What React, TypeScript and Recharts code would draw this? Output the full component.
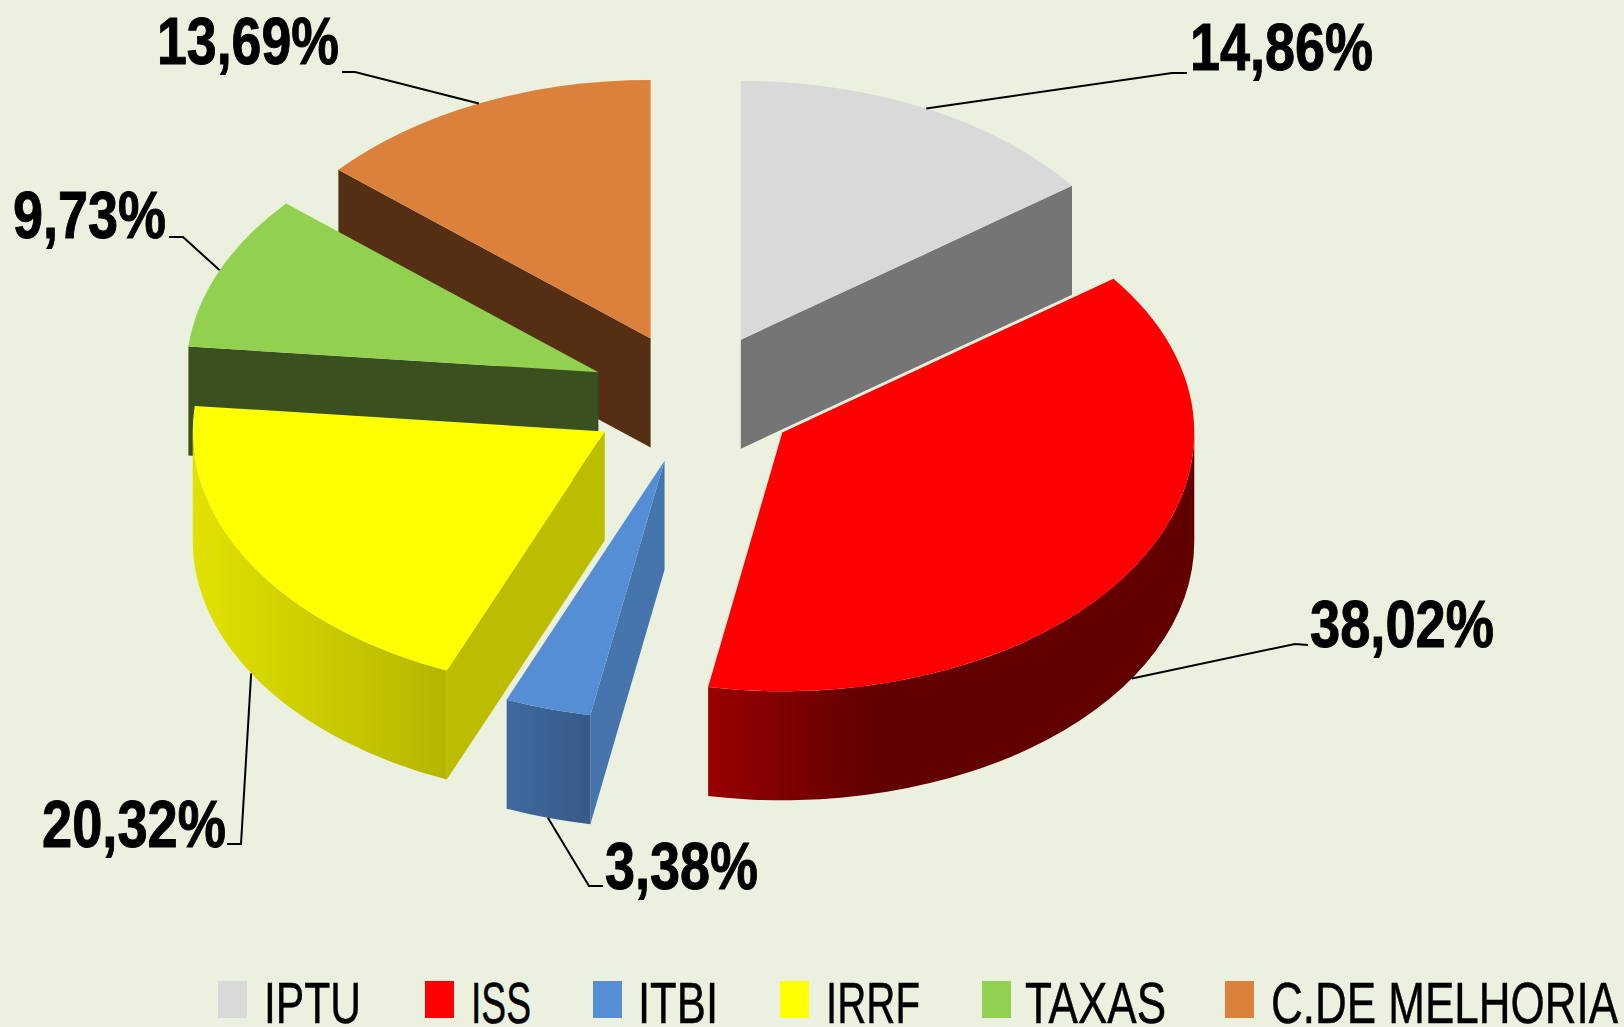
import { PieChart, Pie, Cell, Legend } from 'recharts'

const WIDTH = 1624
const HEIGHT = 1027

// values
const categories = ['IPTU', 'ISS', 'ITBI', 'IRRF', 'TAXAS', 'C.DE MELHORIA']
const shares = [14.86, 38.02, 3.38, 20.32, 9.73, 13.69]

const topColors = ['#D9D9D9', '#FF0000', '#558ED5', '#FFFF00', '#92D050', '#DB813C']
const sideColors = ['#757575', '#660000', '#4674AD', '#BDBD00', '#3A501F', '#552F14']
const wallStops = [
  ['#757575', '#757575'],
  ['#990000', '#620000'],
  ['#3F6A9F', '#375A87'],
  ['#E2E200', '#B5B500'],
  ['#3A501F', '#3A501F'],
  ['#552F14', '#552F14'],
]

// 3D look: the chart's circle is flattened and each slice pulled away from the centre
const CX = 694
const CY = 398
const RADIUS = 412
const SQUASH = 0.628
const DEPTH = 109
const EXPLODE = 0.2525

// label placement, relative to where the leader leaves its slice
const labelLayout: Record<string, any> = {
  IPTU: { elbow: [1172, 73], end: [1187, 73], x: 1190, y: 70, w: 183 },
  ISS: { elbow: [1295, 644], end: [1308, 645], x: 1310, y: 647, w: 184 },
  ITBI: { elbow: [589, 886], end: [603, 886], x: 605, y: 889, w: 153 },
  IRRF: { elbow: [241, 844], end: [227, 844], x: 42, y: 847, w: 184 },
  TAXAS: { elbow: [183, 237], end: [169, 237], x: 13, y: 238, w: 153 },
  'C.DE MELHORIA': { elbow: [355, 72], end: [342, 72], x: 157, y: 64, w: 182 },
}

const legendLayout: Record<string, any> = {
  IPTU: { box: 218, x: 264, w: 97 },
  ISS: { box: 425, x: 471, w: 60 },
  ITBI: { box: 593, x: 638, w: 80 },
  IRRF: { box: 780, x: 826, w: 94 },
  TAXAS: { box: 982, x: 1025, w: 141 },
  'C.DE MELHORIA': { box: 1225, x: 1271, w: 347 },
}

const rows = categories.map((name, i) => ({ name, value: shares[i] })).reverse()

const rad = (deg: number) => (deg * Math.PI) / 180

function project(cx: number, cy: number, r: number, deg: number) {
  return [cx + r * Math.cos(rad(deg)), cy - r * SQUASH * Math.sin(rad(deg))]
}

function apexOf(cx: number, cy: number, r: number, mid: number) {
  return project(cx, cy, r * EXPLODE, mid)
}

function Slice3D(props: any) {
  const { cx, cy, outerRadius: r, startAngle, endAngle, name } = props
  const i = categories.indexOf(name ?? props.payload?.name)
  const a1 = Math.min(startAngle, endAngle)
  const a2 = Math.max(startAngle, endAngle)
  const mid = (a1 + a2) / 2
  const [ax, ay] = apexOf(cx, cy, r, mid)
  const ry = r * SQUASH
  const at = (deg: number) => project(ax, ay, r, deg)
  const [x1, y1] = at(a1)
  const [x2, y2] = at(a2)
  const large = a2 - a1 > 180 ? 1 : 0

  const faces = [a1, a2]
    .filter((a) => Math.cos(rad(a)) * Math.sin(rad(a - mid)) < -1e-6)
    .map((a) => {
      const [x, y] = at(a)
      return `M${ax},${ay} L${x},${y} L${x},${y + DEPTH} L${ax},${ay + DEPTH} Z`
    })

  // outer wall only shows on the front half of the ellipse
  const w1 = Math.max(a1, 180)
  const w2 = Math.min(a2, 360)
  let wall = ''
  let wallLeft = 0
  let wallRight = 0
  if (w2 > w1) {
    const [wx1, wy1] = at(w1)
    const [wx2, wy2] = at(w2)
    wallLeft = wx1
    wallRight = categories[i] === 'ISS' ? wx1 + 160 : wx2
    wall =
      `M${wx1},${wy1} A${r},${ry} 0 0 0 ${wx2},${wy2} L${wx2},${wy2 + DEPTH} ` +
      `A${r},${ry} 0 0 1 ${wx1},${wy1 + DEPTH} Z`
  }
  const gradId = `wall-${i}`

  return (
    <g>
      {wall && (
        <defs>
          <linearGradient id={gradId} gradientUnits="userSpaceOnUse" x1={wallLeft} x2={wallRight} y1={0} y2={0}>
            <stop offset="0%" stopColor={wallStops[i][0]} />
            <stop offset="100%" stopColor={wallStops[i][1]} />
          </linearGradient>
        </defs>
      )}
      {faces.map((d) => (
        <path key={d} d={d} fill={sideColors[i]} />
      ))}
      {wall && <path d={wall} fill={`url(#${gradId})`} />}
      <path d={`M${ax},${ay} L${x1},${y1} A${r},${ry} 0 ${large} 0 ${x2},${y2} Z`} fill={topColors[i]} />
    </g>
  )
}

function ValueLabel(props: any) {
  const { cx, cy, outerRadius: r, midAngle, name, value } = props
  const box = labelLayout[name]
  const [ax, ay] = apexOf(cx, cy, r, midAngle)
  const [sx, sy] = project(ax, ay, r, midAngle)
  const startY = midAngle > 180 && midAngle < 360 ? sy + DEPTH : sy
  const text = `${Number(value).toFixed(2).replace('.', ',')}%`
  return (
    <g>
      <polyline
        points={`${sx},${startY} ${box.elbow[0]},${box.elbow[1]} ${box.end[0]},${box.end[1]}`}
        fill="none"
        stroke="#000"
        strokeWidth={2}
      />
      <text
        x={box.x}
        y={box.y}
        textLength={box.w}
        lengthAdjust="spacingAndGlyphs"
        fontFamily="'Liberation Sans Narrow', 'Liberation Sans', sans-serif"
        fontWeight={700}
        fontSize={67}
        fill="#000"
        stroke="#000"
        strokeWidth={1}
      >
        {text}
      </text>
    </g>
  )
}

function ChartLegend() {
  return (
    <svg width={WIDTH} height={HEIGHT} style={{ position: 'absolute', left: 0, top: 0 }}>
      {categories.map((name, i) => {
        const item = legendLayout[name]
        return (
          <g key={name}>
            <rect x={item.box} y={981} width={29} height={37} fill={topColors[i]} />
            <text
              x={item.x}
              y={1023}
              textLength={item.w}
              lengthAdjust="spacingAndGlyphs"
              fontFamily="'Liberation Sans Narrow', 'Liberation Sans', sans-serif"
              fontSize={58}
              fill="#000"
              stroke="#000"
              strokeWidth={0.5}
            >
              {name}
            </text>
          </g>
        )
      })}
    </svg>
  )
}

export default function App() {
  return (
    <div style={{ position: 'absolute', left: 0, top: 0, width: WIDTH, height: HEIGHT, background: '#ECF0DF', overflow: 'hidden' }}>
      <PieChart width={WIDTH} height={HEIGHT} margin={{ top: 0, right: 0, bottom: 0, left: 0 }}>
        <Pie
          data={rows}
          dataKey="value"
          nameKey="name"
          cx={CX}
          cy={CY}
          innerRadius={0}
          outerRadius={RADIUS}
          startAngle={90}
          endAngle={450}
          stroke="none"
          shape={Slice3D}
          label={ValueLabel}
          labelLine={false}
          isAnimationActive={false}
        >
          {rows.map((row) => (
            <Cell key={row.name} fill={topColors[categories.indexOf(row.name)]} />
          ))}
        </Pie>
        <Legend
          content={<ChartLegend />}
          wrapperStyle={{ position: 'absolute', left: 0, top: 0, width: WIDTH, height: HEIGHT, pointerEvents: 'none' }}
        />
      </PieChart>
    </div>
  )
}
